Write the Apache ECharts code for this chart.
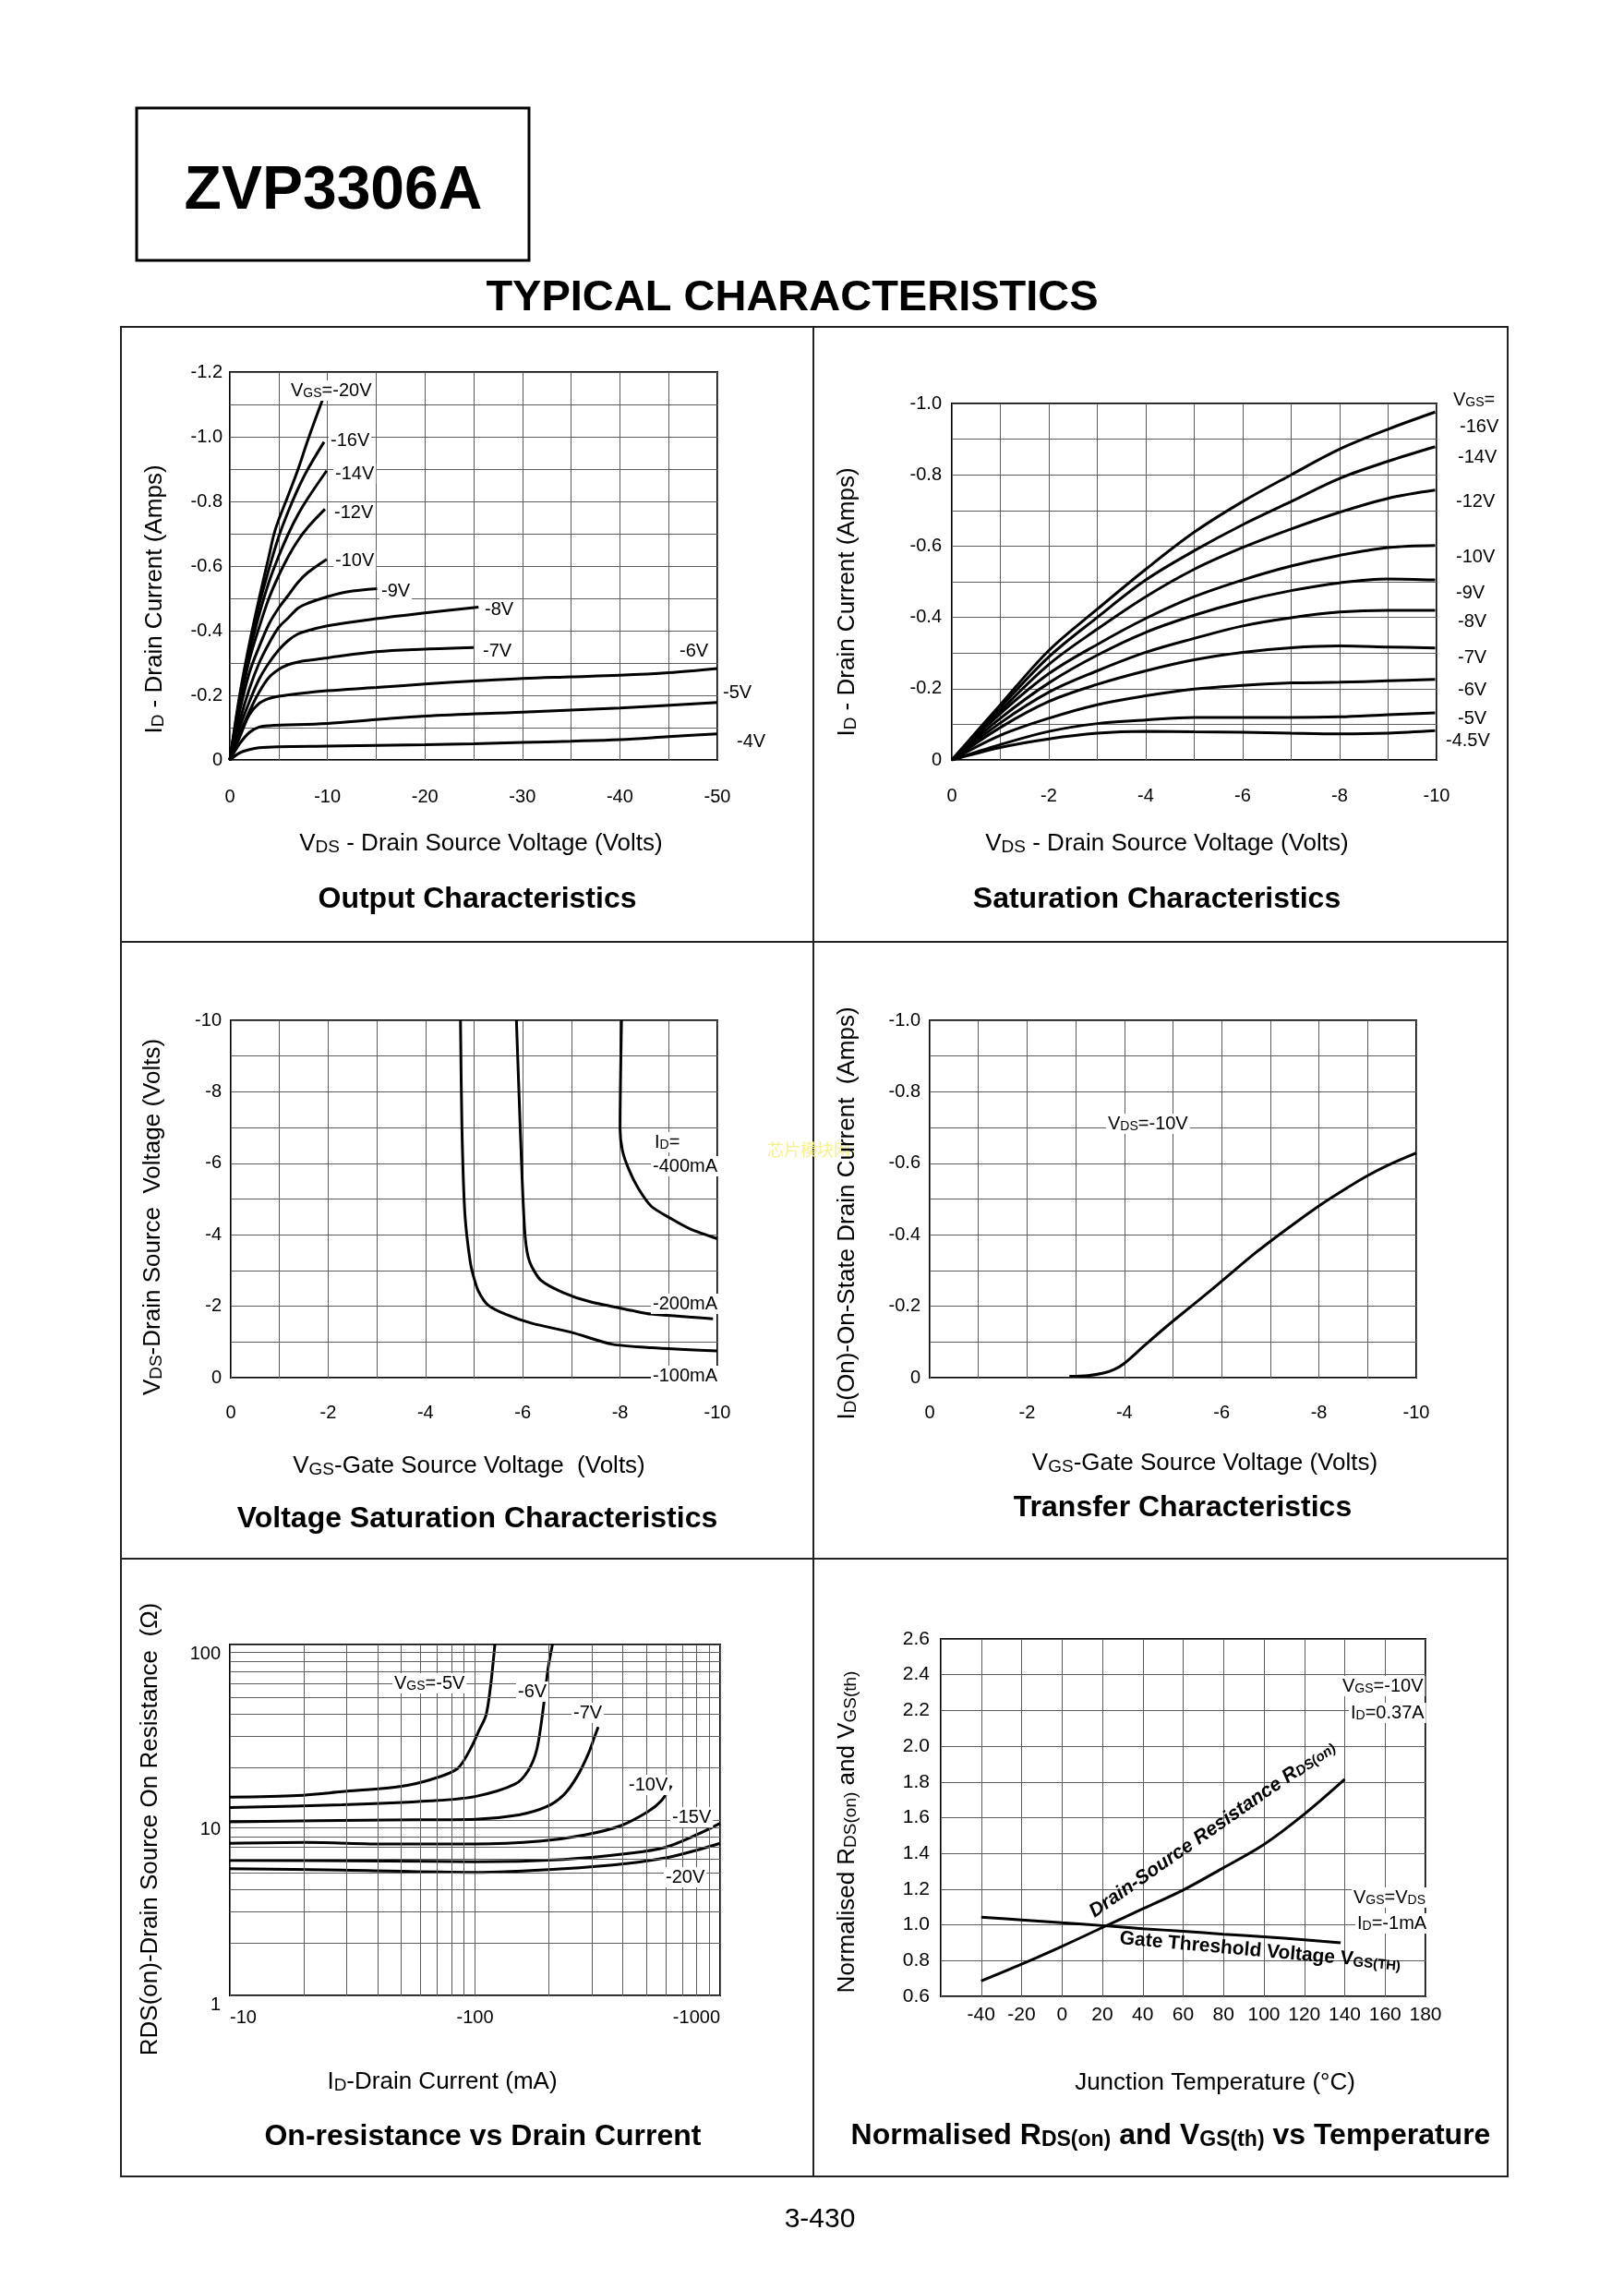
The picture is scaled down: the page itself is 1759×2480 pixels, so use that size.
<!DOCTYPE html>
<html><head><meta charset="utf-8">
<script src="https://cdn.jsdelivr.net/npm/echarts@6/dist/echarts.min.js"></script>
<style>html,body{margin:0;padding:0;background:#fff}#c{width:1759px;height:2480px}</style>
</head><body><div id="c"></div>
<script>
// ---------- Panel 1: Output Characteristics (VDS [V], ID [A]) ----------
const P1_X_TICKS = ['0','-10','-20','-30','-40','-50'];
const P1_Y_TICKS = ['0','-0.2','-0.4','-0.6','-0.8','-1.0','-1.2'];
const OUT_M20 = [[0,0],[-1,-0.2],[-2,-0.36],[-3,-0.5],[-4,-0.63],[-4.67,-0.714],[-6,-0.82],[-7,-0.9],[-8,-0.99],[-9.5,-1.114]];
const OUT_M16 = [[0,0],[-1,-0.19],[-2,-0.35],[-3,-0.48],[-4,-0.59],[-5,-0.69],[-6,-0.77],[-7,-0.84],[-8,-0.9],[-9.66,-0.984]];
const OUT_M14 = [[0,0],[-1,-0.18],[-2,-0.33],[-3,-0.45],[-4,-0.55],[-5,-0.63],[-6,-0.7],[-7,-0.76],[-8,-0.81],[-9.93,-0.895]];
const OUT_M12 = [[0,0],[-1,-0.17],[-2,-0.31],[-3,-0.41],[-4,-0.5],[-5,-0.57],[-6,-0.63],[-7,-0.68],[-8,-0.72],[-9.75,-0.776]];
const OUT_M10 = [[0,0],[-1,-0.15],[-2,-0.27],[-3,-0.35],[-4,-0.42],[-5,-0.47],[-6,-0.51],[-7,-0.55],[-8,-0.58],[-9.93,-0.621]];
const OUT_M9  = [[0,0],[-1,-0.12],[-2,-0.22],[-3,-0.3],[-4,-0.36],[-5,-0.41],[-6,-0.44],[-7,-0.47],[-8,-0.485],[-10,-0.505],[-12,-0.52],[-15.1,-0.53]];
const OUT_M8  = [[0,0],[-1,-0.1],[-2,-0.18],[-3,-0.25],[-4,-0.3],[-5,-0.34],[-6,-0.37],[-7,-0.39],[-8,-0.4],[-10,-0.415],[-15,-0.437],[-20,-0.455],[-25.5,-0.473]];
const OUT_M7  = [[0,0],[-1,-0.08],[-2,-0.15],[-3,-0.21],[-4,-0.255],[-5,-0.28],[-6,-0.295],[-7,-0.303],[-8,-0.308],[-10,-0.316],[-15,-0.335],[-20,-0.343],[-25,-0.348]];
const OUT_M6  = [[0,0],[-1,-0.07],[-2,-0.14],[-3,-0.175],[-4,-0.19],[-5,-0.197],[-7,-0.205],[-10,-0.214],[-15,-0.224],[-20,-0.235],[-25,-0.244],[-30,-0.252],[-35,-0.257],[-40,-0.262],[-45,-0.27],[-50,-0.283]];
const OUT_M5  = [[0,0],[-1,-0.05],[-2,-0.085],[-3,-0.102],[-4,-0.106],[-10,-0.113],[-15,-0.125],[-20,-0.136],[-30,-0.148],[-40,-0.161],[-50,-0.178]];
const OUT_M4  = [[0,0],[-1,-0.022],[-2,-0.032],[-3,-0.038],[-5,-0.041],[-10,-0.043],[-20,-0.047],[-25,-0.05],[-30,-0.054],[-35,-0.058],[-40,-0.063],[-45,-0.072],[-50,-0.081]];

// ---------- Panel 2: Saturation Characteristics ----------
const P2_X_TICKS = ['0','-2','-4','-6','-8','-10'];
const P2_Y_TICKS = ['0','-0.2','-0.4','-0.6','-0.8','-1.0'];
const SAT_M16 = [[0,0],[-1,-0.155],[-2,-0.307],[-3,-0.423],[-4,-0.535],[-5,-0.639],[-6,-0.725],[-7,-0.8],[-8,-0.872],[-9,-0.928],[-9.97,-0.976]];
const SAT_M14 = [[0,0],[-1,-0.147],[-2,-0.289],[-3,-0.4],[-4,-0.505],[-5,-0.587],[-6,-0.66],[-7,-0.725],[-8,-0.79],[-9,-0.838],[-9.97,-0.879]];
const SAT_M12 = [[0,0],[-1,-0.138],[-2,-0.268],[-3,-0.367],[-4,-0.458],[-5,-0.535],[-6,-0.596],[-7,-0.648],[-8,-0.695],[-9,-0.734],[-9.97,-0.757]];
const SAT_M10 = [[0,0],[-1,-0.13],[-2,-0.242],[-3,-0.324],[-4,-0.397],[-5,-0.458],[-6,-0.505],[-7,-0.544],[-8,-0.574],[-9,-0.596],[-9.97,-0.602]];
const SAT_M9  = [[0,0],[-1,-0.117],[-2,-0.216],[-3,-0.294],[-4,-0.358],[-5,-0.406],[-6,-0.445],[-7,-0.475],[-8,-0.497],[-9,-0.508],[-9.97,-0.505]];
const SAT_M8  = [[0,0],[-1,-0.104],[-2,-0.19],[-3,-0.25],[-4,-0.302],[-5,-0.341],[-6,-0.376],[-7,-0.399],[-8,-0.415],[-9,-0.42],[-9.97,-0.42]];
const SAT_M7  = [[0,0],[-1,-0.091],[-2,-0.164],[-3,-0.212],[-4,-0.25],[-5,-0.281],[-6,-0.302],[-7,-0.315],[-8,-0.32],[-9,-0.317],[-9.97,-0.314]];
const SAT_M6  = [[0,0],[-1,-0.069],[-2,-0.117],[-3,-0.155],[-4,-0.18],[-5,-0.199],[-6,-0.209],[-7,-0.216],[-8,-0.218],[-9,-0.222],[-9.97,-0.226]];
const SAT_M5  = [[0,0],[-1,-0.043],[-2,-0.08],[-3,-0.102],[-4,-0.112],[-5,-0.119],[-6,-0.119],[-7,-0.119],[-8,-0.121],[-9,-0.127],[-9.97,-0.132]];
const SAT_M45 = [[0,0],[-1,-0.035],[-2,-0.059],[-3,-0.075],[-4,-0.08],[-5,-0.079],[-6,-0.078],[-7,-0.075],[-8,-0.073],[-9,-0.075],[-9.97,-0.082]];

// ---------- Panel 3: Voltage Saturation Characteristics (VGS, VDS) ----------
const P3_X_TICKS = ['0','-2','-4','-6','-8','-10'];
const P3_Y_TICKS = ['0','-2','-4','-6','-8','-10'];
const VSAT_100 = [[-4.72,-10],[-4.75,-7],[-4.81,-4.6],[-4.92,-3.25],[-5.01,-2.73],[-5.1,-2.39],[-5.28,-2.04],[-5.64,-1.78],[-6.19,-1.52],[-7.0,-1.27],[-7.82,-0.94],[-8.64,-0.84],[-10,-0.75]];
const VSAT_200 = [[-5.87,-10],[-5.92,-8.07],[-5.99,-5.49],[-6.05,-3.94],[-6.14,-3.25],[-6.37,-2.73],[-6.82,-2.39],[-7.37,-2.13],[-8.28,-1.87],[-8.64,-1.78],[-9.91,-1.65]];
const VSAT_400 = [[-8.03,-10],[-8.0,-6.95],[-8.05,-6.35],[-8.18,-5.83],[-8.37,-5.31],[-8.64,-4.8],[-9.05,-4.45],[-9.46,-4.15],[-10,-3.89]];

// ---------- Panel 4: Transfer Characteristics ----------
const P4_X_TICKS = ['0','-2','-4','-6','-8','-10'];
const P4_Y_TICKS = ['0','-0.2','-0.4','-0.6','-0.8','-1.0'];
const TRANSFER = [[-2.87,-0.004],[-3.25,-0.006],[-3.57,-0.013],[-3.79,-0.023],[-3.98,-0.038],[-4.43,-0.092],[-4.89,-0.146],[-5.34,-0.196],[-5.8,-0.247],[-6.25,-0.299],[-6.71,-0.351],[-7.16,-0.398],[-7.62,-0.444],[-8.07,-0.487],[-8.53,-0.527],[-8.98,-0.564],[-9.44,-0.596],[-10,-0.629]];

// ---------- Panel 5: On-resistance vs Drain Current (|ID| mA, RDS ohm) ----------
const P5_X_TICKS = ['-10','-100','-1000'];
const P5_Y_TICKS = ['1','10','100'];
const P5_X_MINOR = [20,30,40,50,60,70,80,90,200,300,400,500,600,700,800,900];
const P5_Y_MINOR = [2,3,4,5,6,7,8,9,20,30,40,50,60,70,80,90];
const RON_M5  = [[10,13.5],[18.9,13.8],[28.7,14.5],[49.3,15.5],[66,17.0],[84.7,19.6],[95.9,25.5],[104,32.5],[111,39.8],[116,59.6],[120.5,100]];
const RON_M6  = [[10,11.76],[28.7,12.2],[66,12.85],[100,13.6],[145.5,16.0],[165,19.2],[179,25.5],[190.5,45],[198.6,73],[207,100]];
const RON_M7  = [[10,9.76],[43.5,10.0],[100,10.1],[151,10.7],[194.5,11.85],[230,13.9],[261,17.7],[289,23.6],[308,30],[318,33.9]];
const RON_M10 = [[10,7.36],[20.5,7.45],[43.5,7.3],[100,7.3],[186.6,7.6],[283,8.24],[395,9.3],[507,11.14],[575,12.85],[632,15.7]];
const RON_M15 = [[10,5.89],[43.5,5.84],[100,5.78],[230,5.96],[429,6.46],[600,7.0],[802,8.24],[1000,9.57]];
const RON_M20 = [[10,5.28],[28.7,5.18],[100,5.03],[230,5.28],[429,5.68],[600,6.08],[802,6.73],[1000,7.36]];

// ---------- Panel 6: Normalised RDS(on) and VGS(th) vs Temperature ----------
const P6_X_TICKS = ['-40','-20','0','20','40','60','80','100','120','140','160','180'];
const P6_Y_TICKS = ['0.6','0.8','1.0','1.2','1.4','1.6','1.8','2.0','2.2','2.4','2.6'];
const TEMP_RDS = [[-40,0.686],[-20,0.78],[0,0.88],[20,0.985],[40,1.09],[60,1.195],[80,1.32],[100,1.45],[120,1.62],[140,1.815]];
const TEMP_VTH = [[-40,1.043],[-20,1.028],[0,1.012],[20,0.996],[40,0.979],[60,0.964],[80,0.948],[100,0.933],[120,0.917],[138,0.9]];

// ====================================================================
const FONT = '"Liberation Sans", Arial, Helvetica, sans-serif';
const GRID_LINE = {color:'#5e5e5e', width:1};

function fmtList(list, dec, prefix) {
  return v => {
    const s = Math.abs(v) < 1e-9 ? '0' : (prefix || '') + (dec === null ? String(v) : v.toFixed(dec));
    return list.includes(s) ? s : '';
  };
}
function vAxis(gi, min, max, interval, fmt, margin, inverse, extra) {
  return Object.assign({
    type:'value', gridIndex:gi, min, max, interval, inverse: !!inverse,
    axisLine:{show:false}, axisTick:{show:false},
    splitLine:{show:true, lineStyle:GRID_LINE},
    axisLabel:{formatter:fmt, margin, fontSize:20, color:'#000', fontFamily:FONT, hideOverlap:false, showMinLabel:true, showMaxLabel:true}
  }, extra || {});
}
function curve(gi, pts, smooth) {
  return {type:'line', xAxisIndex:gi, yAxisIndex:gi, data:pts, symbol:'none', showSymbol:false,
    smooth: smooth === undefined ? 0.35 : smooth, lineStyle:{color:'#000', width:3}, z:3, silent:true};
}

const grids = [
  {left:249, top:403, width:528, height:420},
  {left:1031, top:437, width:525, height:386},
  {left:250, top:1105, width:527, height:387},
  {left:1007, top:1105, width:527, height:387},
  {left:249, top:1781, width:531, height:380},
  {left:1019, top:1775, width:525, height:387}
].map(g => Object.assign(g, {show:true, borderColor:'#000', borderWidth:2, backgroundColor:'rgba(0,0,0,0)'}));

const xAxes = [
  vAxis(0, -50, 0, 5, fmtList(P1_X_TICKS, 0), 30, true),
  vAxis(1, -10, 0, 1, fmtList(P2_X_TICKS, 0), 29, true),
  vAxis(2, -10, 0, 1, fmtList(P3_X_TICKS, 0), 28, true),
  vAxis(3, -10, 0, 1, fmtList(P4_X_TICKS, 0), 28, true),
  {type:'log', logBase:10, gridIndex:4, min:10, max:1000,
    axisLine:{show:false}, axisTick:{show:false}, splitLine:{show:true, lineStyle:GRID_LINE},
    axisLabel:{formatter: fmtList(P5_X_TICKS, null, '-'), margin:14, fontSize:20, color:'#000', fontFamily:FONT,
      hideOverlap:false, alignMinLabel:'left', alignMaxLabel:'right'}},
  vAxis(5, -60, 180, 20, fmtList(P6_X_TICKS, 0), 10, false, {axisLabel:{formatter:fmtList(P6_X_TICKS, 0), margin:10, fontSize:21, color:'#000', fontFamily:FONT, hideOverlap:false}})
];
const yAxes = [
  vAxis(0, -1.2, 0, 0.1, fmtList(P1_Y_TICKS, 1), 8, true),
  vAxis(1, -1.0, 0, 0.1, fmtList(P2_Y_TICKS, 1), 11, true),
  vAxis(2, -10, 0, 1, fmtList(P3_Y_TICKS, 0), 10, true),
  vAxis(3, -1.0, 0, 0.1, fmtList(P4_Y_TICKS, 1), 10, true),
  {type:'log', logBase:10, gridIndex:4, min:1, max:100,
    axisLine:{show:false}, axisTick:{show:false}, splitLine:{show:true, lineStyle:GRID_LINE},
    axisLabel:{formatter: fmtList(P5_Y_TICKS, null), margin:10, fontSize:20, color:'#000', fontFamily:FONT, verticalAlign:'top', hideOverlap:false}},
  vAxis(5, 0.6, 2.6, 0.2, fmtList(P6_Y_TICKS, 1), 12, false, {axisLabel:{formatter:fmtList(P6_Y_TICKS, 1), margin:12, fontSize:21, color:'#000', fontFamily:FONT, hideOverlap:false}})
];

const series = [
  ...[OUT_M20, OUT_M16, OUT_M14, OUT_M12, OUT_M10, OUT_M9, OUT_M8, OUT_M7, OUT_M6, OUT_M5, OUT_M4].map(d => curve(0, d)),
  ...[SAT_M16, SAT_M14, SAT_M12, SAT_M10, SAT_M9, SAT_M8, SAT_M7, SAT_M6, SAT_M5, SAT_M45].map(d => curve(1, d)),
  ...[VSAT_100, VSAT_200, VSAT_400].map(d => curve(2, d, 0.25)),
  curve(3, TRANSFER),
  {type:'line', xAxisIndex:4, yAxisIndex:4, data:[], z:1, silent:true,
    markLine:{silent:true, symbol:['none','none'], label:{show:false}, animation:false,
      lineStyle:{color:'#5e5e5e', width:1, type:'solid'},
      emphasis:{disabled:true},
      data:[...P5_X_MINOR.map(v => ({xAxis:v})), ...P5_Y_MINOR.map(v => ({yAxis:v}))]}},
  ...[RON_M5, RON_M6, RON_M7, RON_M10, RON_M15, RON_M20].map(d => curve(4, d, 0.3)),
  curve(5, TEMP_RDS), curve(5, TEMP_VTH)
];

// ---------- text helpers ----------
function T(x, y, text, size, o) {
  o = o || {};
  const weight = o.bold ? 'bold' : 'normal';
  const fstyle = o.italic ? 'italic' : 'normal';
  const color = o.color || '#000';
  const sub = Math.round(size * (o.subRatio || 0.72));
  const st = {
    text, fill: color, fontSize: size, fontFamily: o.family || FONT, fontWeight: weight, fontStyle: fstyle,
    align: o.align || 'left', verticalAlign: 'middle', textAlign: o.align || 'left', textVerticalAlign: 'middle',
    rich: { s: {fontSize: sub, fontFamily: o.family || FONT, fontWeight: weight, fontStyle: fstyle, fill: color, verticalAlign: 'bottom'} }
  };
  if (o.bg) { st.backgroundColor = '#fff'; st.padding = [1, 2]; }
  const el = {type:'text', x, y, z:100, silent:true, style: st};
  if (o.rot) el.rotation = o.rot;
  return el;
}
const R90 = Math.PI / 2;
const line = (x1, y1, x2, y2, w) => ({type:'line', z:90, silent:true, shape:{x1, y1, x2, y2}, style:{stroke:'#222', lineWidth:w || 2}});

const graphics = [
  // page frame
  {type:'rect', z:90, silent:true, shape:{x:148, y:117, width:425, height:165}, style:{fill:'none', stroke:'#000', lineWidth:3}},
  T(361, 208, 'ZVP3306A', 66, {bold:true, align:'center'}),
  T(858, 323, 'TYPICAL CHARACTERISTICS', 47, {bold:true, align:'center'}),
  {type:'rect', z:90, silent:true, shape:{x:131, y:354, width:1502, height:2003}, style:{fill:'none', stroke:'#222', lineWidth:2}},
  line(881, 354, 881, 2357), line(131, 1020, 1633, 1020), line(131, 1688, 1633, 1688),
  T(888, 2404, '3-430', 30, {align:'center'}),

  // panel 1
  T(168, 649, 'I{s|D} - Drain Current (Amps)', 26, {align:'center', rot:R90}),
  T(521, 914, 'V{s|DS} - Drain Source Voltage (Volts)', 26, {align:'center'}),
  T(517, 974, 'Output Characteristics', 32, {bold:true, align:'center'}),
  T(313, 423, 'V{s|GS}=-20V', 20, {bg:true}),
  T(356, 477, '-16V', 20, {bg:true}), T(361, 513, '-14V', 20, {bg:true}), T(360, 555, '-12V', 20, {bg:true}),
  T(361, 607, '-10V', 20, {bg:true}), T(411, 640, '-9V', 20, {bg:true}), T(523, 660, '-8V', 20, {bg:true}),
  T(521, 705, '-7V', 20, {bg:true}), T(734, 705, '-6V', 20, {bg:true}), T(781, 750, '-5V', 20, {bg:true}),
  T(796, 803, '-4V', 20, {bg:true}),

  // panel 2
  T(918, 652, 'I{s|D} - Drain Current (Amps)', 26, {align:'center', rot:R90}),
  T(1264, 914, 'V{s|DS} - Drain Source Voltage (Volts)', 26, {align:'center'}),
  T(1253, 974, 'Saturation Characteristics', 32, {bold:true, align:'center'}),
  T(1572, 433, 'V{s|GS}=', 20, {bg:true}),
  T(1579, 462, '-16V', 20, {bg:true}), T(1577, 495, '-14V', 20, {bg:true}), T(1575, 543, '-12V', 20, {bg:true}),
  T(1575, 603, '-10V', 20, {bg:true}), T(1575, 642, '-9V', 20, {bg:true}), T(1577, 673, '-8V', 20, {bg:true}),
  T(1577, 712, '-7V', 20, {bg:true}), T(1577, 747, '-6V', 20, {bg:true}), T(1577, 778, '-5V', 20, {bg:true}),
  T(1564, 802, '-4.5V', 20, {bg:true}),

  // panel 3
  T(166, 1318, 'V{s|DS}-Drain Source  Voltage (Volts)', 26, {align:'center', rot:R90}),
  T(508, 1588, 'V{s|GS}-Gate Source Voltage  (Volts)', 26, {align:'center'}),
  T(517, 1645, 'Voltage Saturation Characteristics', 32, {bold:true, align:'center'}),
  T(707, 1237, 'I{s|D}=', 20, {bg:true}),
  T(705, 1263, '-400mA', 20, {bg:true}), T(705, 1412, '-200mA', 20, {bg:true}), T(705, 1490, '-100mA', 20, {bg:true}),
  T(831, 1245, '芯片模块网', 18, {color:'#f7f08c', family:'"Noto Sans CJK SC", sans-serif'}),

  // panel 4
  T(918, 1314, 'I{s|D}(On)-On-State Drain Current  (Amps)', 26, {align:'center', rot:R90}),
  T(1305, 1585, 'V{s|GS}-Gate Source Voltage (Volts)', 26, {align:'center'}),
  T(1281, 1633, 'Transfer Characteristics', 32, {bold:true, align:'center'}),
  T(1198, 1217, 'V{s|DS}=-10V', 20, {bg:true}),

  // panel 5
  T(163, 1981, 'RDS(on)-Drain Source On Resistance  (Ω)', 26, {align:'center', rot:R90}),
  T(479, 2255, 'I{s|D}-Drain Current (mA)', 26, {align:'center'}),
  T(523, 2314, 'On-resistance vs Drain Current', 32, {bold:true, align:'center'}),
  T(425, 1823, 'V{s|GS}=-5V', 20, {bg:true}), T(559, 1832, '-6V', 20, {bg:true}), T(619, 1855, '-7V', 20, {bg:true}),
  T(679, 1933, '-10V', 20, {bg:true}), T(726, 1968, '-15V', 20, {bg:true}), T(719, 2033, '-20V', 20, {bg:true}),

  // panel 6
  T(918, 1984, 'Normalised R{s|DS(on)} and V{s|GS(th)}', 26, {align:'center', rot:R90}),
  T(1316, 2256, 'Junction Temperature (°C)', 26, {align:'center'}),
  T(1268, 2313, 'Normalised R{s|DS(on)} and V{s|GS(th)} vs Temperature', 32, {bold:true, align:'center'}),
  T(1452, 1826, 'V{s|GS}=-10V', 20, {bg:true}), T(1461, 1855, 'I{s|D}=0.37A', 20, {bg:true}),
  T(1464, 2055, 'V{s|GS}=V{s|DS}', 20, {bg:true}), T(1468, 2083, 'I{s|D}=-1mA', 20, {bg:true}),
  T(1313, 1981, 'Drain-Source Resistance R{s|DS(on)}', 21, {bold:true, italic:true, align:'center', rot:0.609}),
  T(1365, 2113, 'Gate Threshold Voltage V{s|GS(TH)}', 21, {bold:true, align:'center', rot:-0.09})
];

const chart = echarts.init(document.getElementById('c'), null, {renderer:'canvas', width:1759, height:2480});
chart.setOption({
  animation:false,
  backgroundColor:'#fff',
  textStyle:{fontFamily:FONT},
  grid: grids, xAxis: xAxes, yAxis: yAxes, series, graphic: graphics
});
</script></body></html>
